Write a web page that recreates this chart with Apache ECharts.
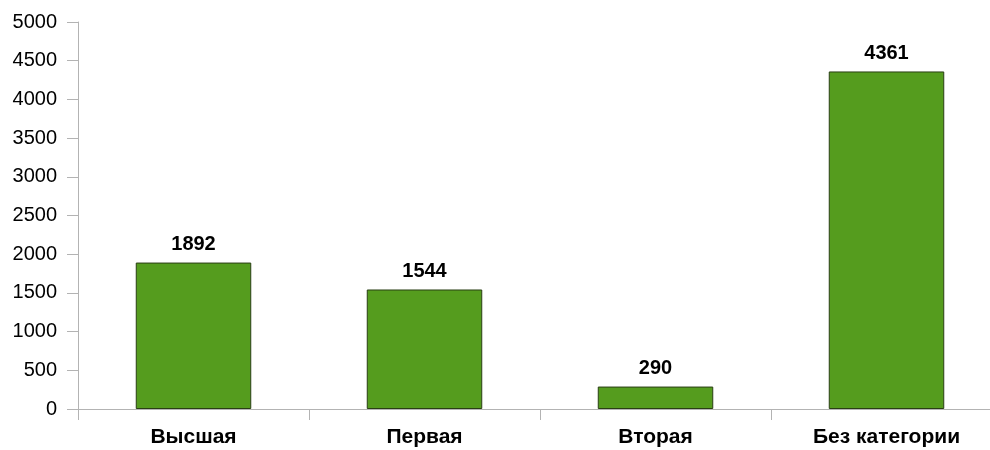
<!DOCTYPE html>
<html>
<head>
<meta charset="utf-8">
<script src="https://cdn.jsdelivr.net/npm/echarts@6/dist/echarts.min.js"></script>
<style>
  html, body { margin: 0; padding: 0; background: #fff; overflow: hidden; }
  /* the plot runs a bit past the right edge, like the source picture */
  #chart { width: 1002px; height: 450px; }
</style>
</head>
<body>
<div id="chart"></div>
<script>
const categories = ['Высшая', 'Первая', 'Вторая', 'Без категории']
const values = [1892, 1544, 290, 4361]
const yTicks = { min: 0, max: 5000, step: 500 }

const font = '"Liberation Sans", Arial, sans-serif'
const axisGrey = '#b3b3b3'

const chart = echarts.init(document.getElementById('chart'), null, { renderer: 'canvas' })
chart.setOption({
  animation: false,
  textStyle: { fontFamily: font },
  grid: { left: 78, right: 0, top: 22, bottom: 41, containLabel: false },
  xAxis: {
    type: 'category',
    data: categories,
    axisLine: { lineStyle: { color: axisGrey } },
    axisTick: { show: true, length: 11, lineStyle: { color: axisGrey } },
    axisLabel: {
      color: '#000',
      fontFamily: font,
      fontSize: 21,
      fontWeight: 'bold',
      margin: 18
    },
    splitLine: { show: false }
  },
  yAxis: {
    type: 'value',
    min: yTicks.min,
    max: yTicks.max,
    interval: yTicks.step,
    axisLine: { show: true, lineStyle: { color: axisGrey } },
    axisTick: { show: true, length: 11, lineStyle: { color: axisGrey } },
    axisLabel: {
      color: '#000',
      fontFamily: font,
      fontSize: 20,
      margin: 21,
      formatter: v => String(v)
    },
    splitLine: { show: false }
  },
  series: [{
    type: 'bar',
    data: values,
    barWidth: '50%',
    itemStyle: {
      color: '#559c1e',
      borderColor: '#2a3f14',
      borderWidth: 1
    },
    label: {
      show: true,
      position: 'top',
      distance: 8,
      color: '#000',
      fontFamily: font,
      fontSize: 20,
      fontWeight: 'bold'
    }
  }]
})
</script>
</body>
</html>
